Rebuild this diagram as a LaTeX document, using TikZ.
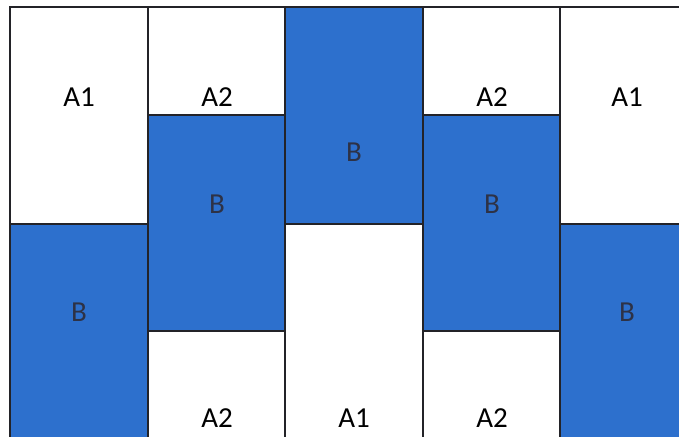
\documentclass[tikz,border=0pt]{standalone}
\usepackage{fontspec}
\setmainfont{Carlito}
\definecolor{cellblue}{RGB}{45,112,205}
\definecolor{gridline}{RGB}{35,35,40}
\definecolor{bink}{RGB}{45,50,70}

\tikzset{
  cell/.style={draw=gridline, line width=1.9pt},
  bcell/.style={cell, fill=cellblue},
  wcell/.style={cell, fill=white},
  alabel/.style={font=\fontsize{29}{34}\selectfont, text=black},
  blabel/.style={alabel, text=bink}
}

\begin{document}
\begin{tikzpicture}[x=1pt, y=-1pt]
      \clip (0,0) rectangle (679,436);
      \fill[white] (0,0) rectangle (679,436);

      % white blocks
      \draw[wcell] (10,7) rectangle (148,224);
      \draw[wcell] (148,7) rectangle (285,115);
      \draw[wcell] (148,331) rectangle (285,460);
      \draw[wcell] (285,224) rectangle (423,460);
      \draw[wcell] (423,7) rectangle (560,115);
      \draw[wcell] (423,331) rectangle (560,460);
      \draw[wcell] (560,7) rectangle (700,224);

      % blue blocks
      \draw[bcell] (10,224) rectangle (148,460);
      \draw[bcell] (148,115) rectangle (285,331);
      \draw[bcell] (285,7) rectangle (423,224);
      \draw[bcell] (423,115) rectangle (560,331);
      \draw[bcell] (560,224) rectangle (700,460);

      % labels
      \node[alabel] (a1left) at (79,97) {A1};
      \node[alabel] (a2topl) at (217,97) {A2};
      \node[alabel] (a2topr) at (492,97) {A2};
      \node[alabel] (a1right) at (627,97) {A1};
      \node[alabel] (a2botl) at (217,418) {A2};
      \node[alabel] (a1mid) at (354,418) {A1};
      \node[alabel] (a2botr) at (492,418) {A2};

      \node[blabel] (bmid) at (354,152) {B};
      \node[blabel] (bl) at (217,204) {B};
      \node[blabel] (br) at (492,204) {B};
      \node[blabel] (bleft) at (79,312) {B};
      \node[blabel] (bright) at (627,312) {B};
    \end{tikzpicture}
\end{document}
